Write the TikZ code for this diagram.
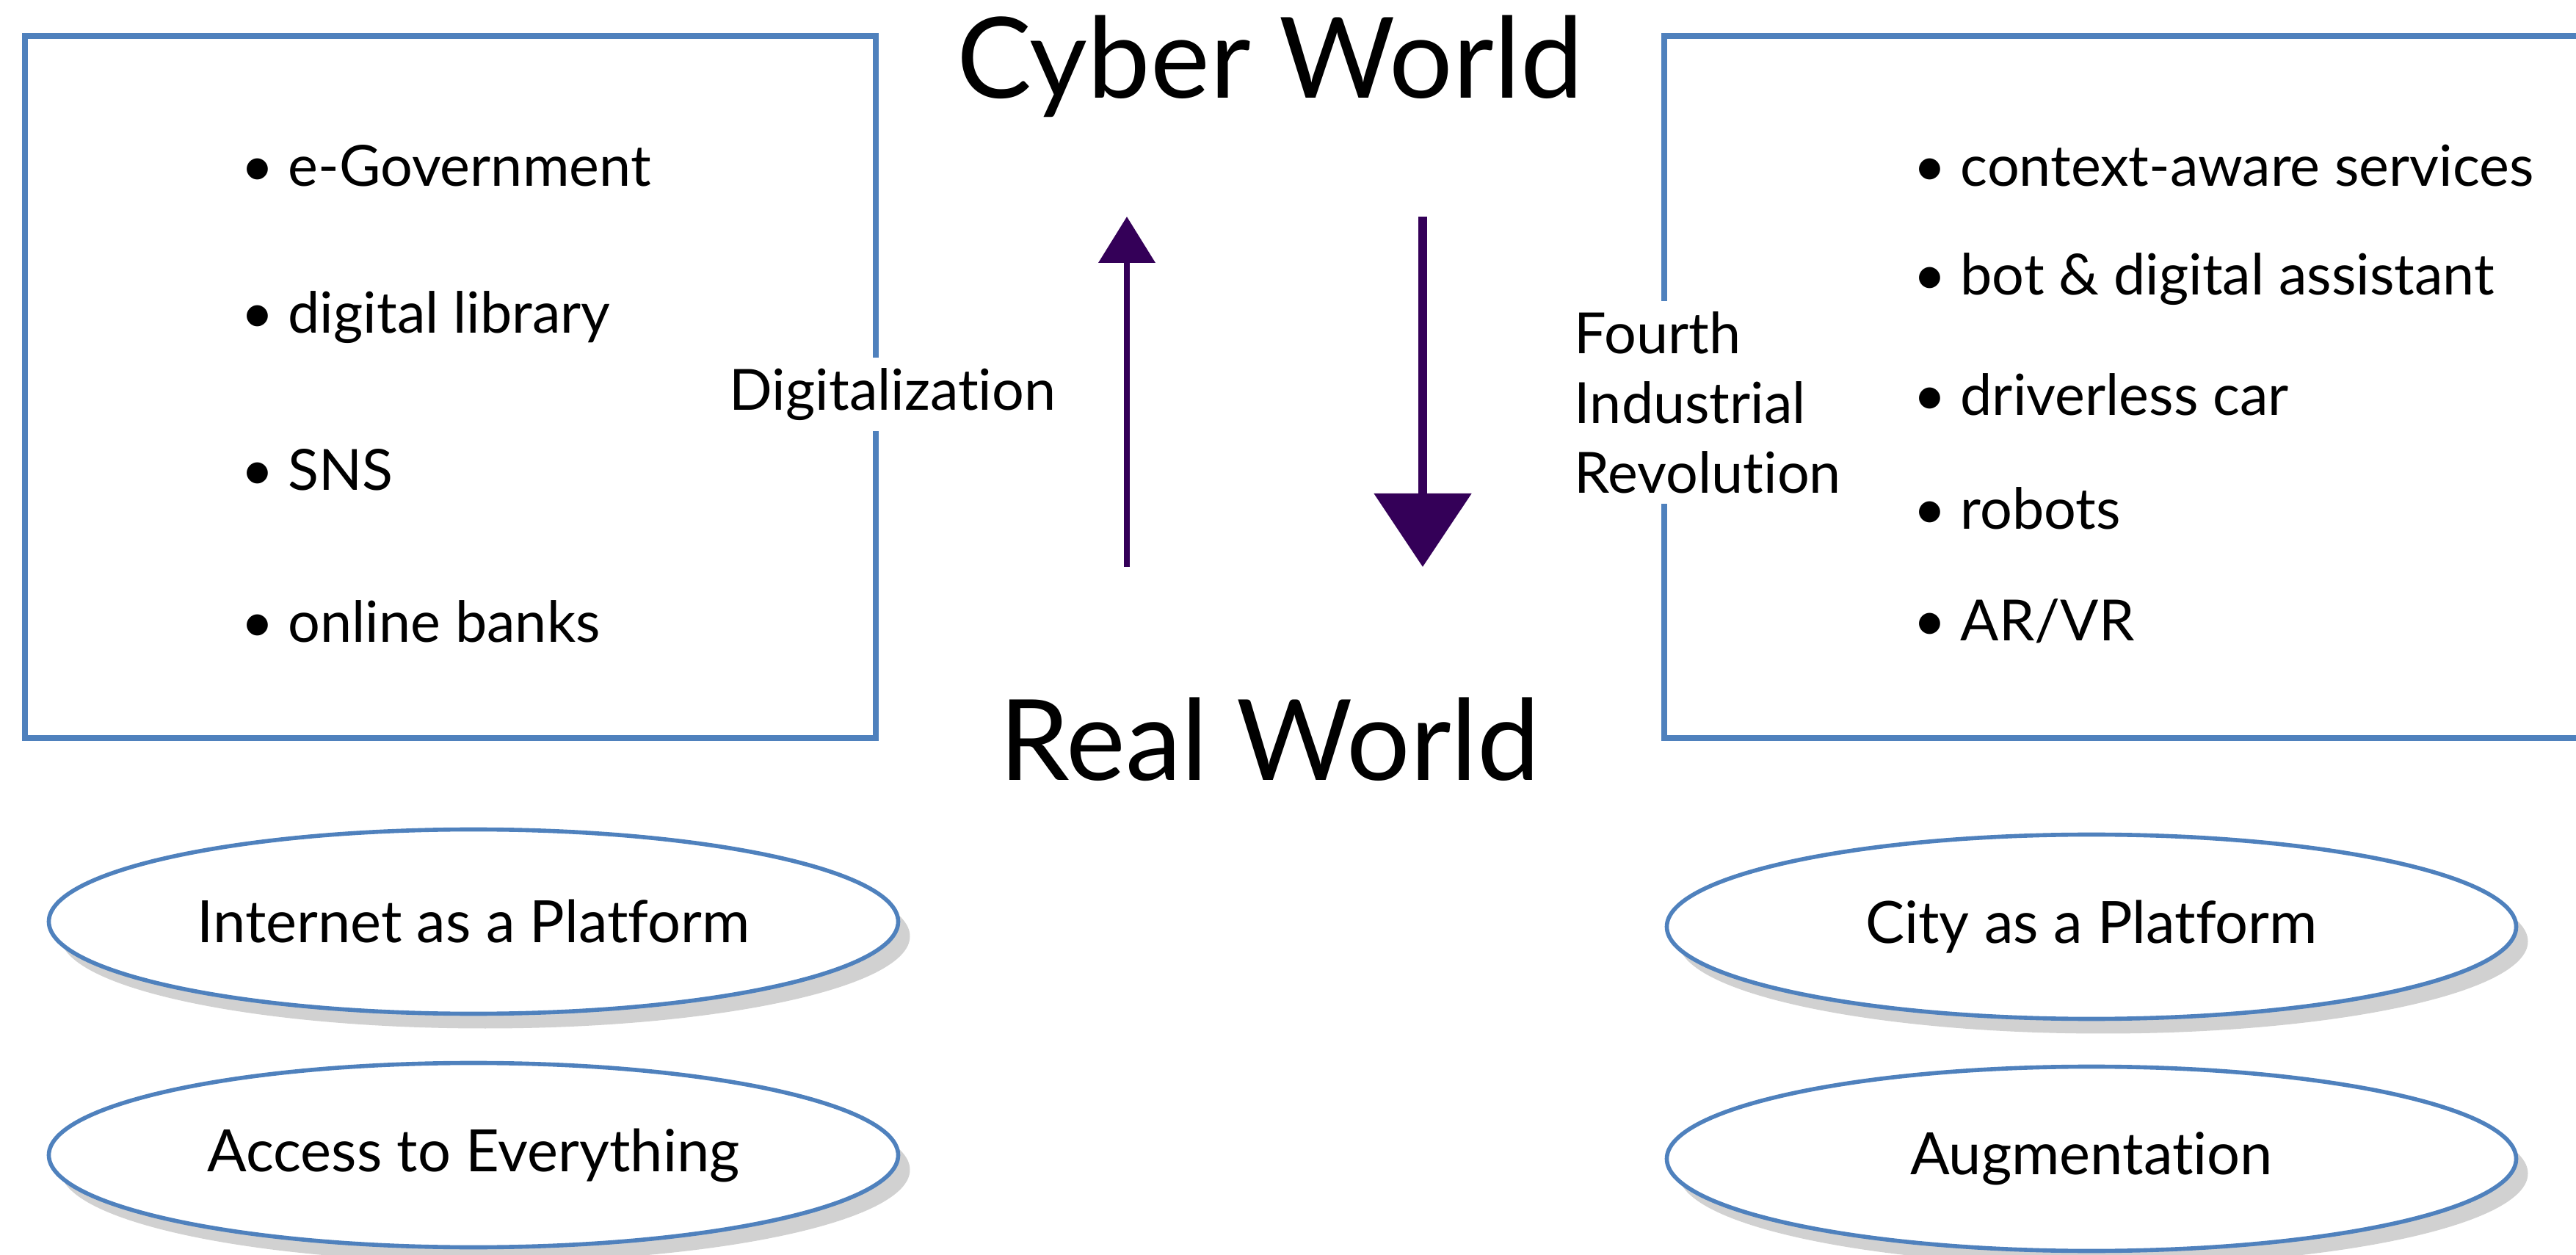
\documentclass[tikz,border=0pt]{standalone}
\usepackage{fontspec}
\setmainfont{Lato}[Ligatures=NoCommon]
\usetikzlibrary{arrows.meta,shapes.geometric,shadows,positioning}
\definecolor{frameBlue}{RGB}{79,129,189}
\definecolor{arrowPurple}{RGB}{52,0,88}
\tikzset{
  listBox/.style={draw=frameBlue, line width=2.2pt},
  listItem/.style={anchor=west, inner sep=0pt, font=\fontsize{22}{26}\selectfont},
  worldLabel/.style={inner sep=0pt, font=\fontsize{43.5}{50}\selectfont},
  arrowLabel/.style={fill=white, inner sep=4pt, font=\fontsize{22}{27}\selectfont},
  platform/.style={ellipse, draw=frameBlue, line width=1.6pt, fill=white,
    minimum width=11.57cm, minimum height=2.51cm, inner sep=0pt,
    font=\fontsize{22.6}{27}\selectfont,
    drop shadow={shadow xshift=0.16cm, shadow yshift=-0.20cm, fill=black!40, opacity=0.45}},
}
\newcommand{\bulletItem}[1]{\makebox[0.64cm][l]{\textbullet}#1}
\begin{document}
\begin{tikzpicture}
  %% Conveniant macros for the frame sizes
  \pgfmathsetmacro{\boxTop}{16.59}
  \pgfmathsetmacro{\boxBottom}{7.03}
  \pgfmathsetmacro{\leftBoxRight}{11.93}
  \pgfmathsetmacro{\rightBoxLeft}{22.67}
  \pgfmathsetmacro{\upX}{15.35}
  \pgfmathsetmacro{\downX}{19.38}
  \useasboundingbox (0,0) rectangle (35.09,17.08);
  %% Frames
  \draw[listBox] (0.34,\boxBottom) rectangle (\leftBoxRight,\boxTop);
  \draw[listBox] (\rightBoxLeft,\boxBottom) rectangle (35.6,\boxTop);
  %% Cyber world, left list
  \node[listItem] (egov) at (3.28,14.82) {\bulletItem{e-Government}};
  \node[listItem] (diglib) at (3.28,12.76) {\bulletItem{digital library}};
  \node[listItem] (sns) at (3.28,10.68) {\bulletItem{SNS}};
  \node[listItem] (banks) at (3.28,8.62) {\bulletItem{online banks}};
  %% Cyber world, right list
  \node[listItem] (context) at (26.06,14.82) {\bulletItem{context-aware services}};
  \node[listItem] (bot) at (26.06,13.28) {\bulletItem{bot \& digital assistant}};
  \node[listItem] (car) at (26.06,11.71) {\bulletItem{driverless car}};
  \node[listItem] (robots) at (26.06,10.16) {\bulletItem{robots}};
  \node[listItem] (arvr) at (26.06,8.62) {\bulletItem{AR/VR}};
  %% Titles
  \node[worldLabel] (cyber) at (17.30,16.18) {Cyber World};
  \node[worldLabel] (real) at (17.30,7.01) {Real World};
  %% Arrows between the worlds
  \coordinate (upFoot) at (\upX,9.36);
  \coordinate (upTip) at (\upX,14.13);
  \coordinate (downFoot) at (\downX,14.13);
  \coordinate (downTip) at (\downX,9.36);
  \draw[arrowPurple, line width=2.2pt, -{Triangle[width=0.76cm,length=0.63cm]}] (upFoot) -- (upTip);
  \draw[arrowPurple, line width=3.6pt, -{Triangle[width=1.3cm,length=1.0cm]}] (downFoot) -- (downTip);
  \node[arrowLabel] (digit) at (12.16,11.71) {Digitalization};
  \node[arrowLabel, anchor=west, align=left] (fourth) at (21.30,11.60) {Fourth\\Industrial\\Revolution};
  %% Platforms
  \node[platform] (internet) at (6.45,4.53) {Internet as a Platform};
  \node[platform] (access) at (6.45,1.35) {Access to Everything};
  \node[platform] (city) at (28.49,4.46) {City as a Platform};
  \node[platform] (augment) at (28.49,1.30) {Augmentation};
\end{tikzpicture}
\end{document}
